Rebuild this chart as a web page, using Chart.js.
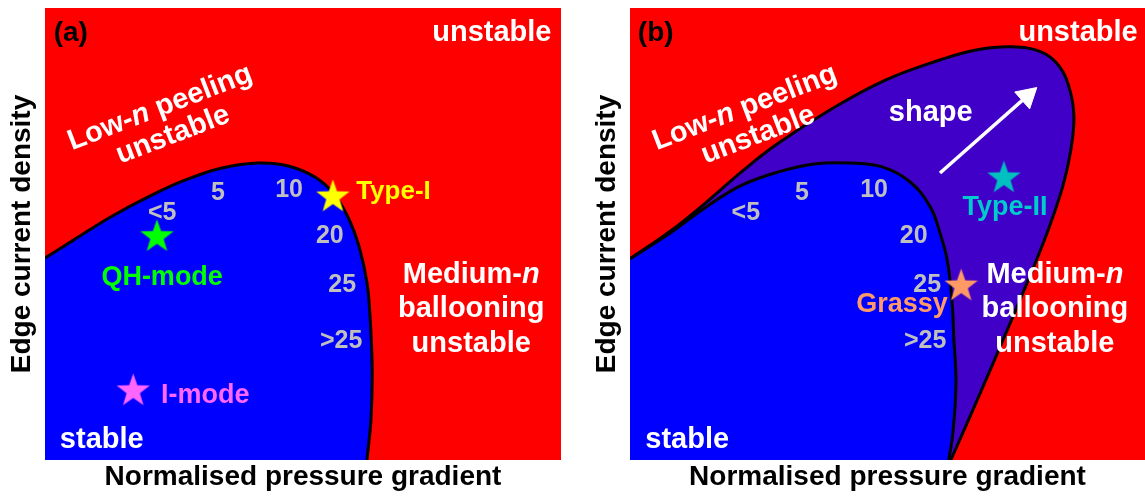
<!DOCTYPE html>
<html><head><meta charset="utf-8">
<script src="https://cdn.jsdelivr.net/npm/chart.js@4.4.0/dist/chart.umd.min.js"></script>
<style>
html,body{margin:0;padding:0;background:#fff;}
#wrap{position:relative;width:1145px;height:500px;overflow:hidden;background:#fff;}
#ca{position:absolute;left:0;top:0;}
#cb{position:absolute;left:580px;top:0;}
</style></head><body>
<div id="wrap"><canvas id="ca" width="580" height="500"></canvas><canvas id="cb" width="565" height="500"></canvas></div>
<script>
// ---------- data (both axes run 0..10, arbitrary units) ----------
// panel (a): peeling-ballooning stability boundary
const boundaryA_x = [0, 0.56, 1.28, 2.00, 2.71, 3.43, 4.14, 4.73, 5.23, 5.58, 5.87, 6.09, 6.24, 6.30, 6.34, 6.32, 6.24];
const boundaryA_y = [4.47, 4.87, 5.38, 5.82, 6.19, 6.46, 6.57, 6.50, 6.26, 5.91, 5.38, 4.71, 3.92, 3.16, 2.06, 0.95, 0];
// panel (b): original boundary (inner) and boundary with stronger shaping (outer)
const innerB_x = [0, 0.78, 1.48, 2.17, 2.87, 3.57, 4.27, 4.91, 5.44, 5.83, 6.02, 6.16, 6.25, 6.29, 6.33, 6.27, 6.19];
const innerB_y = [4.45, 5.02, 5.60, 6.08, 6.37, 6.55, 6.57, 6.48, 6.15, 5.60, 5.02, 4.42, 3.54, 2.65, 1.70, 0.60, 0];
const outerB_x = [0, 0.78, 1.48, 2.17, 2.87, 3.92, 4.97, 6.02, 6.72, 7.42, 7.98, 8.33, 8.54, 8.62, 8.56, 8.41, 8.14, 7.79, 7.30, 6.80, 6.23];
const outerB_y = [4.45, 5.06, 5.70, 6.38, 7.00, 7.77, 8.41, 8.85, 9.07, 9.14, 9.03, 8.72, 8.19, 7.59, 6.86, 6.08, 5.15, 4.14, 2.81, 1.48, 0];
// ELM regimes (stars)
const starsA_names = ['Type-I', 'QH-mode', 'I-mode'];
const starsA_x = [5.58, 2.17, 1.71];
const starsA_y = [5.84, 4.96, 1.55];
const starsB_names = ['Type-II', 'Grassy'];
const starsB_x = [7.26, 6.43];
const starsB_y = [6.26, 3.87];
// shaping arrow (panel b)
const arrowB_x = [6.02, 7.71];
const arrowB_y = [6.35, 8.05];
// toroidal mode-number annotations along the boundary
const modeNumbers = ['<5', '5', '10', '20', '25', '>25'];
const modeNumA_x = [2.27, 3.35, 4.73, 5.52, 5.76, 5.74];
const modeNumA_y = [5.31, 5.75, 5.82, 4.80, 3.72, 2.48];
const modeNumB_x = [2.25, 3.34, 4.74, 5.51, 5.77, 5.73];
const modeNumB_y = [5.31, 5.75, 5.82, 4.80, 3.72, 2.48];

// ---------- styling ----------
const FAM = '"Liberation Sans", Arial, Helvetica, sans-serif';
const RED = '#FF0000', BLUE = '#0000FF', PURPLE = '#4000C8';
const GREY = '#BFBFBF';

function pts(xs, ys) { return xs.map((x, i) => ({x: x, y: ys[i]})); }
function region(xs, ys) {
  const p = pts(xs, ys);
  return [{x: xs[0], y: 0}, p[0]].concat(p);
}
function makeStar(color, R) {
  const c = document.createElement('canvas');
  const s = Math.ceil(2 * R + 2);
  c.width = s; c.height = s;
  const g = c.getContext('2d');
  const r = R * 0.40;
  g.beginPath();
  for (let i = 0; i < 10; i++) {
    const a = -Math.PI / 2 + i * Math.PI / 5;
    const rr = i % 2 === 0 ? R : r;
    const px = s / 2 + rr * Math.cos(a), py = s / 2 + 1 + rr * Math.sin(a);
    if (i === 0) g.moveTo(px, py); else g.lineTo(px, py);
  }
  g.closePath();
  g.fillStyle = color; g.fill();
  return c;
}

const bgPlugin = {
  id: 'panelBg',
  beforeDatasetsDraw(chart) {
    const {ctx, chartArea: a} = chart;
    ctx.save(); ctx.fillStyle = RED;
    ctx.fillRect(a.left, a.top, a.right - a.left, a.bottom - a.top);
    ctx.restore();
  }
};
const textPlugin = {
  id: 'panelText',
  afterDatasetsDraw(chart, args, opts) {
    const {ctx} = chart; const xs = chart.scales.x, ys = chart.scales.y;
    for (const lb of opts.items) {
      ctx.save();
      ctx.translate(xs.getPixelForValue(lb.x), ys.getPixelForValue(lb.y));
      if (lb.rot) ctx.rotate(lb.rot * Math.PI / 180);
      ctx.fillStyle = lb.c;
      ctx.textBaseline = lb.bl || 'alphabetic';
      ctx.textAlign = 'left';
      const parts = lb.s.split('_');
      const fonts = parts.map((p, i) => (i % 2 ? 'italic ' : '') + 'bold ' + lb.size + 'px ' + FAM);
      const w = parts.map((p, i) => { ctx.font = fonts[i]; return ctx.measureText(p).width; });
      const total = w.reduce((a, b) => a + b, 0);
      let sx = lb.align === 'left' ? 0 : (lb.align === 'right' ? -total : -total / 2);
      parts.forEach((p, i) => { ctx.font = fonts[i]; ctx.fillText(p, sx, 0); sx += w[i]; });
      ctx.restore();
    }
  }
};

function numberLabels(xs, ys) {
  return modeNumbers.map((t, i) => ({s: t, x: xs[i], y: ys[i], c: GREY, size: 25}));
}
const labelsA = [
  {s: '(a)', x: 0.50, y: 9.27, c: '#000', size: 28},
  {s: 'unstable', x: 8.66, y: 9.27, c: '#fff', size: 29},
  {s: 'Low-_n_ peeling', x: 2.23, y: 7.79, c: '#fff', size: 29, rot: -21, bl: 'middle'},
  {s: 'unstable', x: 2.48, y: 7.19, c: '#fff', size: 29, rot: -21, bl: 'middle'},
  {s: starsA_names[0], x: 6.03, y: 5.77, c: '#FFFF00', size: 26, align: 'left'},
  {s: starsA_names[1], x: 2.27, y: 3.87, c: '#00FF00', size: 27},
  {s: starsA_names[2], x: 2.25, y: 1.26, c: '#FF66FF', size: 27, align: 'left'},
  {s: 'Medium-_n_', x: 8.26, y: 3.92, c: '#fff', size: 29},
  {s: 'ballooning', x: 8.26, y: 3.16, c: '#fff', size: 29},
  {s: 'unstable', x: 8.26, y: 2.39, c: '#fff', size: 29},
  {s: 'stable', x: 1.10, y: 0.27, c: '#fff', size: 29}
].concat(numberLabels(modeNumA_x, modeNumA_y));
const labelsB = [
  {s: '(b)', x: 0.50, y: 9.27, c: '#000', size: 28},
  {s: 'unstable', x: 8.70, y: 9.27, c: '#fff', size: 29},
  {s: 'Low-_n_ peeling', x: 2.23, y: 7.79, c: '#fff', size: 29, rot: -21, bl: 'middle'},
  {s: 'unstable', x: 2.49, y: 7.19, c: '#fff', size: 29, rot: -21, bl: 'middle'},
  {s: 'shape', x: 5.84, y: 7.50, c: '#fff', size: 29},
  {s: starsB_names[0], x: 7.28, y: 5.42, c: '#00CCCC', size: 27},
  {s: starsB_names[1], x: 5.28, y: 3.27, c: '#FF9966', size: 27},
  {s: 'Medium-_n_', x: 8.25, y: 3.92, c: '#fff', size: 29},
  {s: 'ballooning', x: 8.25, y: 3.16, c: '#fff', size: 29},
  {s: 'unstable', x: 8.25, y: 2.39, c: '#fff', size: 29},
  {s: 'stable', x: 1.11, y: 0.27, c: '#fff', size: 29}
].concat(numberLabels(modeNumB_x, modeNumB_y));

function scales(yPad) {
  const titleFont = {family: FAM, size: 28, weight: 'bold', lineHeight: 1.2};
  return {
    x: {type: 'linear', min: 0, max: 10, position: 'bottom',
        grid: {display: false, drawTicks: false}, border: {display: false}, ticks: {display: false},
        title: {display: true, text: 'Normalised pressure gradient', color: '#000', font: titleFont, padding: {top: 0, bottom: 6.4}}},
    y: {type: 'linear', min: 0, max: 10, position: 'left',
        grid: {display: false, drawTicks: false}, border: {display: false}, ticks: {display: false},
        title: {display: true, text: 'Edge current density', color: '#000', font: titleFont, padding: yPad}}
  };
}
const lineCommon = {showLine: true, pointRadius: 0, tension: 0.4, clip: 0};

function panel(canvas, datasets, labels, yPad, padRight) {
  return new Chart(canvas, {
    type: 'scatter',
    data: {datasets: datasets},
    options: {
      responsive: false, animation: false, devicePixelRatio: 1, events: [],
      layout: {autoPadding: false, padding: {left: 0, right: padRight, top: 8, bottom: 0}},
      scales: scales(yPad),
      plugins: {legend: {display: false}, tooltip: {enabled: false}, panelText: {items: labels}}
    },
    plugins: [bgPlugin, textPlugin]
  });
}

const starImgsA = [makeStar('#FFFF00', 17.5), makeStar('#00FF00', 17.5), makeStar('#FF66FF', 17.5)];
const starImgsB = [makeStar('#00C0C0', 17.5), makeStar('#FF9966', 17.5)];

panel(document.getElementById('ca'), [
  Object.assign({label: 'stable region', data: region(boundaryA_x, boundaryA_y), fill: 'shape', backgroundColor: BLUE, borderWidth: 0, order: 10}, lineCommon),
  Object.assign({label: 'boundary', data: pts(boundaryA_x, boundaryA_y), fill: false, borderColor: '#000', borderWidth: 3, order: 5}, lineCommon),
  {label: 'ELM regimes', data: pts(starsA_x, starsA_y), showLine: false, pointStyle: starImgsA, pointRadius: 17, order: 1}
], labelsA, {top: 5.2, bottom: 6.2}, 19);

function arrowRotation(ctx) {
  const ch = ctx.chart; const xs = ch.scales.x, ys = ch.scales.y;
  const dx = xs.getPixelForValue(arrowB_x[1]) - xs.getPixelForValue(arrowB_x[0]);
  const dy = ys.getPixelForValue(arrowB_y[1]) - ys.getPixelForValue(arrowB_y[0]);
  return Math.atan2(dy, dx) * 180 / Math.PI + 90;
}

panel(document.getElementById('cb'), [
  Object.assign({label: 'shaped stable region', data: region(outerB_x, outerB_y), fill: 'shape', backgroundColor: PURPLE, borderWidth: 0, order: 20}, lineCommon),
  Object.assign({label: 'stable region', data: region(innerB_x, innerB_y), fill: 'shape', backgroundColor: BLUE, borderWidth: 0, order: 10}, lineCommon),
  Object.assign({label: 'shaped boundary', data: pts(outerB_x, outerB_y), fill: false, borderColor: '#000', borderWidth: 3, order: 5}, lineCommon),
  Object.assign({label: 'boundary', data: pts(innerB_x, innerB_y), fill: false, borderColor: '#000', borderWidth: 3, order: 5}, lineCommon),
  {label: 'shape arrow', data: pts(arrowB_x, arrowB_y), showLine: true, tension: 0, borderColor: '#fff', borderWidth: 3.5,
   pointRadius: [0, 13], pointStyle: 'triangle', pointBackgroundColor: '#fff', pointBorderColor: '#fff', pointBorderWidth: 1,
   rotation: arrowRotation, order: 2},
  {label: 'ELM regimes', data: pts(starsB_x, starsB_y), showLine: false, pointStyle: starImgsB, pointRadius: 17, order: 1}
], labelsB, {top: 10.2, bottom: 6.2}, 0);
</script>
</body></html>
